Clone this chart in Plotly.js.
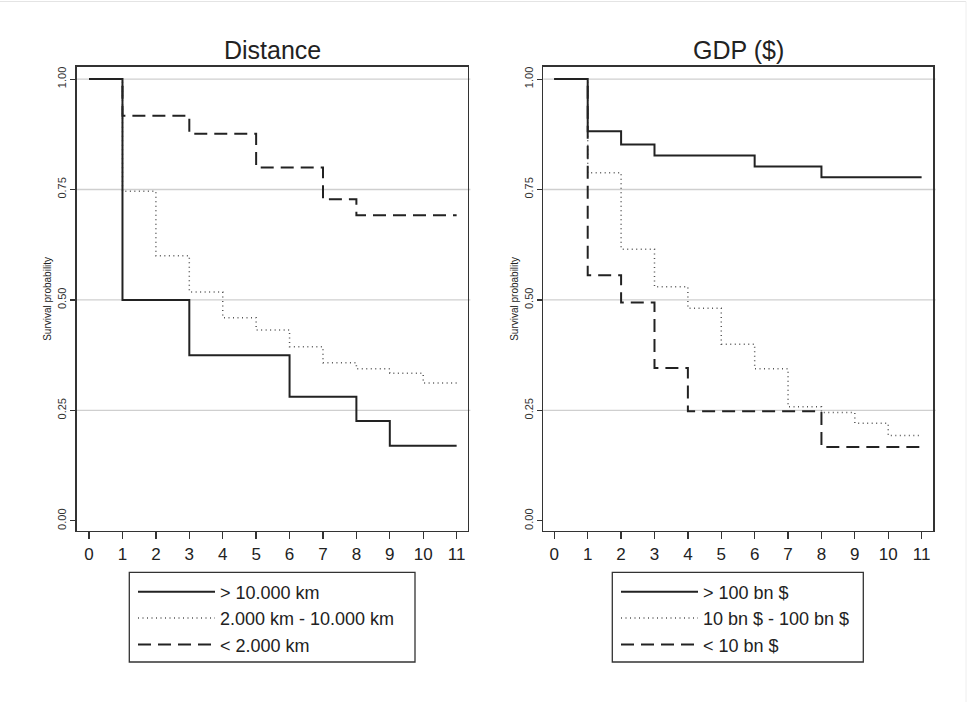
<!DOCTYPE html>
<html>
<head>
<meta charset="utf-8">
<script src="https://cdn.plot.ly/plotly-3.0.1.min.js"></script>
<style>html,body{margin:0;padding:0;background:#fff;}#chart{width:968px;height:702px;}</style>
</head>
<body>
<div id="chart"></div>
<script>
// ---- Data ----
const panelTitles = ["Distance", "GDP ($)"];
const yTitle = "Survival probability";
const xTickVals = [0,1,2,3,4,5,6,7,8,9,10,11];
const yTickVals = [0, 0.25, 0.5, 0.75, 1];
const yTickText = ["0.00", "0.25", "0.50", "0.75", "1.00"];
const gridVals = [0.25, 0.5, 0.75, 1];

const distNames = ["> 10.000 km", "2.000 km - 10.000 km", "< 2.000 km"];
const distFarT = [0, 1, 3, 6, 8, 9, 11];
const distFarS = [1, 0.5, 0.375, 0.281, 0.226, 0.17, 0.17];
const distMidT = [0, 1, 2, 3, 4, 5, 6, 7, 8, 9, 10, 11];
const distMidS = [1, 0.746, 0.6, 0.518, 0.46, 0.432, 0.394, 0.358, 0.344, 0.334, 0.312, 0.312];
const distNearT = [0, 1, 3, 5, 7, 8, 11];
const distNearS = [1, 0.917, 0.876, 0.8, 0.728, 0.692, 0.692];

const gdpNames = ["> 100 bn $", "10 bn $ - 100 bn $", "< 10 bn $"];
const gdpHighT = [0, 1, 2, 3, 6, 8, 11];
const gdpHighS = [1, 0.882, 0.852, 0.827, 0.802, 0.778, 0.778];
const gdpMidT = [0, 1, 2, 3, 4, 5, 6, 7, 8, 9, 10, 11];
const gdpMidS = [1, 0.788, 0.615, 0.53, 0.481, 0.4, 0.344, 0.258, 0.245, 0.221, 0.193, 0.193];
const gdpLowT = [0, 1, 2, 3, 4, 8, 11];
const gdpLowS = [1, 0.556, 0.494, 0.346, 0.248, 0.167, 0.167];

// ---- Styles ----
const solidLine = {color: "#222", width: 2, shape: "hv", dash: "solid"};
const dotLine = {color: "#555", width: 1.5, shape: "hv", dash: "1px,3.5px"};
const dashLine = {color: "#222", width: 2, shape: "hv", dash: "13px,7px"};

function tr(x, y, name, line, xa, ya, leg, rank) {
  return {x: x, y: y, name: name, type: "scatter", mode: "lines", line: line,
          xaxis: xa, yaxis: ya, legend: leg, legendrank: rank, hoverinfo: "skip"};
}

const traces = [
  tr(distMidT, distMidS, distNames[1], dotLine, "x", "y", "legend", 2),
  tr(distNearT, distNearS, distNames[2], dashLine, "x", "y", "legend", 3),
  tr(distFarT, distFarS, distNames[0], solidLine, "x", "y", "legend", 1),
  tr(gdpMidT, gdpMidS, gdpNames[1], dotLine, "x2", "y2", "legend2", 2),
  tr(gdpLowT, gdpLowS, gdpNames[2], dashLine, "x2", "y2", "legend2", 3),
  tr(gdpHighT, gdpHighS, gdpNames[0], solidLine, "x2", "y2", "legend2", 1)
];

const W = 968, H = 702;
const yDom = [(H - 531) / H, (H - 66.7) / H];
const font = "Liberation Sans, Arial, sans-serif";

function xAxis(dom, range, anchor) {
  return {domain: dom, range: range, anchor: anchor, tickvals: xTickVals,
          ticks: "outside", ticklen: 7, tickwidth: 1.3, tickcolor: "#333",
          showline: true, mirror: true, linecolor: "#333", linewidth: 1.4,
          showgrid: false, zeroline: false,
          tickfont: {family: font, size: 17, color: "#222"}, fixedrange: true};
}
function yAxis(anchor) {
  return {domain: yDom, range: [-0.023, 1.028], anchor: anchor,
          tickvals: yTickVals, ticktext: yTickText, tickangle: -90,
          ticks: "outside", ticklen: 5, tickwidth: 1.1, tickcolor: "#333",
          showline: true, mirror: true, linecolor: "#333", linewidth: 1.4,
          showgrid: false, zeroline: false,
          tickfont: {family: font, size: 11, color: "#333"},
          title: {text: yTitle, font: {family: font, size: 10, color: "#222"}, standoff: 2},
          fixedrange: true};
}

const xDom1 = [76.7 / W, 468 / W];
const xDom2 = [543.3 / W, 933.3 / W];

const shapes = [];
gridVals.forEach(v => {
  shapes.push({type: "line", xref: "x domain", yref: "y", x0: 0, x1: 1.006, y0: v, y1: v,
               line: {color: "#cfcfcf", width: 1.3}, layer: "below"});
  shapes.push({type: "line", xref: "x2 domain", yref: "y2", x0: 0, x1: 1.006, y0: v, y1: v,
               line: {color: "#cfcfcf", width: 1.3}, layer: "below"});
});
// faint page frame (top and right edges)
shapes.push({type: "line", xref: "paper", yref: "paper", x0: 0, x1: 966 / W, y0: 1 - 1.5 / H, y1: 1 - 1.5 / H,
             line: {color: "#e4e4e4", width: 1.2}});
shapes.push({type: "line", xref: "paper", yref: "paper", x0: 966 / W, x1: 966 / W, y0: 0, y1: 1 - 1.5 / H,
             line: {color: "#eeeeee", width: 1}});
// legend boxes
const legBoxes = [[129.3, 415], [612.3, 863.3]];
legBoxes.forEach(b => {
  shapes.push({type: "rect", xref: "paper", yref: "paper", x0: b[0] / W, x1: b[1] / W,
               y0: (H - 662) / H, y1: (H - 572.3) / H, line: {color: "#333", width: 1.3},
               fillcolor: "rgba(0,0,0,0)", layer: "above"});
});

const legBase = {yanchor: "top", xanchor: "left", y: (H - 573.5) / H,
                 bgcolor: "rgba(0,0,0,0)", borderwidth: 0,
                 font: {family: font, size: 18, color: "#222"}, itemwidth: 77,
                 traceorder: "normal"};

const layout = {
  width: W, height: H,
  margin: {l: 0, r: 0, t: 0, b: 0},
  paper_bgcolor: "#fff", plot_bgcolor: "#fff",
  showlegend: true,
  xaxis: xAxis(xDom1, [-0.37, 11.34], "y"),
  yaxis: yAxis("x"),
  xaxis2: xAxis(xDom2, [-0.33, 11.35], "y2"),
  yaxis2: yAxis("x2"),
  legend: Object.assign({}, legBase, {x: 133 / W}),
  legend2: Object.assign({}, legBase, {x: 616 / W}),
  shapes: shapes,
  annotations: [
    {text: panelTitles[0], xref: "paper", yref: "paper", x: (76.7 + 468) / 2 / W, y: (H - 50) / H,
     showarrow: false, font: {family: font, size: 25, color: "#222"}, xanchor: "center", yanchor: "middle"},
    {text: panelTitles[1], xref: "paper", yref: "paper", x: (543.3 + 933.3) / 2 / W, y: (H - 50) / H,
     showarrow: false, font: {family: font, size: 25, color: "#222"}, xanchor: "center", yanchor: "middle"}
  ]
};

Plotly.newPlot("chart", traces, layout, {displayModeBar: false, staticPlot: true});
</script>
</body>
</html>
